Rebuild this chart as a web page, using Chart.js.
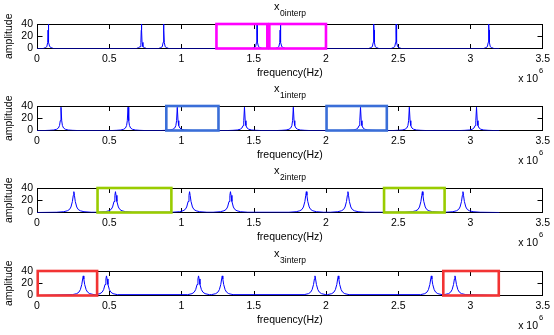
<!DOCTYPE html>
<html><head><meta charset="utf-8">
<script src="https://cdn.jsdelivr.net/npm/chart.js@4.4.0/dist/chart.umd.min.js"></script>
<style>
html,body{margin:0;padding:0;background:#fff;}
#wrap{position:relative;width:554px;height:335px;overflow:hidden;background:#fff;}
#wrap canvas{position:absolute;left:0;}
</style></head><body><div id="wrap"></div>
<script>
// Peak centres of each interpolated spectrum, in units of 1e6 Hz
const peaks0 = [0.078, 0.723, 0.877, 1.523, 1.684, 2.331, 2.486, 3.127];
const peaks1 = [0.166, 0.630, 0.971, 1.436, 1.774, 2.239, 2.577, 3.042];
const peaks2 = [0.255, 0.543, 1.056, 1.339, 1.864, 2.152, 2.667, 2.948];
const peaks3 = [0.320, 0.481, 1.118, 1.282, 1.924, 2.085, 2.729, 2.893];

// One side of each peak: [distance from centre (1e6 Hz), amplitude], centre first
const shape0 = [[0, 40], [0.0015, 30], [0.004, 10], [0.01, 3], [0.02, 1.5], [0.035, 0]];
const shape1 = [[0, 38], [0.005, 16], [0.01, 8], [0.018, 4], [0.03, 2], [0.05, 0.8], [0.08, 0.3], [0.11, 0]];
const shape2 = [[0, 34], [0.004, 28], [0.01, 18], [0.02, 9], [0.03, 5], [0.045, 2.8], [0.07, 1.3], [0.12, 0.4], [0.16, 0]];
const shape3 = [[0, 32], [0.004, 27], [0.01, 18], [0.02, 9.5], [0.03, 5.5], [0.045, 3], [0.075, 1.4], [0.14, 0]];

// Frequency span of the computed spectrum (1e6 Hz)
const spanStart = 0;
const spanEnd = 3.2;

// Highlighted frequency bands (1e6 Hz)
const bands0 = [[1.242, 1.594], [1.608, 2.0]];
const bands1 = [[0.895, 1.256], [2.004, 2.421]];
const bands2 = [[0.419, 0.930], [2.402, 2.821]];
const bands3 = [[0.005, 0.416], [2.812, 3.196]];

// Axis ticks
const xTicks = [0, 0.5, 1, 1.5, 2, 2.5, 3, 3.5];
const yTicks = [0, 20, 40];

const subNames = ['0interp', '1interp', '2interp', '3interp'];
const allPeaks = [peaks0, peaks1, peaks2, peaks3];
const allShapes = [shape0, shape1, shape2, shape3];
const allBands = [bands0, bands1, bands2, bands3];
const bandColors = ['#ff00ff', '#3a6ed8', '#99cc00', '#f23333'];

const FONT = '"Liberation Sans", Arial, Helvetica, sans-serif';

// Turn peak centres + peak shape into a polyline along the frequency axis
function buildSpectrum(peaks, shape) {
  const pts = [{x: spanStart, y: 0}];
  peaks.forEach((c, i) => {
    const prev = i > 0 ? peaks[i - 1] : -Infinity;
    const next = i < peaks.length - 1 ? peaks[i + 1] : Infinity;
    const half = Math.min(c - prev, next - c) / 2;
    const side = shape.filter(p => p[0] < half);
    for (let k = side.length - 1; k > 0; k--) pts.push({x: c - side[k][0], y: side[k][1]});
    pts.push({x: c, y: side[0][1]});
    for (let k = 1; k < side.length; k++) pts.push({x: c + side[k][0], y: side[k][1]});
  });
  pts.push({x: spanEnd, y: 0});
  return pts;
}

// Box, inward ticks, bands, title and axis multiplier
const framePlugin = {
  id: 'frame',
  beforeDatasetsDraw(chart) {
    const {ctx, chartArea: a, scales: {x, y}} = chart;
    const L = Math.round(a.left) + 0.5, R = Math.round(a.right) - 0.5;
    const T = Math.round(a.top) + 0.5, B = Math.floor(a.bottom) + 0.5;
    ctx.save();
    ctx.strokeStyle = '#000';
    ctx.lineWidth = 1;
    ctx.strokeRect(L, T, R - L, B - T);
    ctx.beginPath();
    xTicks.slice(1, -1).forEach(v => {
      const px = Math.round(x.getPixelForValue(v)) + 0.5;
      ctx.moveTo(px, B); ctx.lineTo(px, B - 4.5);
      ctx.moveTo(px, T); ctx.lineTo(px, T + 4.5);
    });
    yTicks.slice(1, -1).forEach(v => {
      const py = Math.round(y.getPixelForValue(v)) + 0.5;
      ctx.moveTo(L, py); ctx.lineTo(L + 5, py);
      ctx.moveTo(R, py); ctx.lineTo(R - 5, py);
    });
    ctx.stroke();
    ctx.restore();
  },
  afterDatasetsDraw(chart, args, opts) {
    const {ctx, scales: {x, y}} = chart;
    ctx.save();
    ctx.strokeStyle = opts.color;
    ctx.lineWidth = 2.6;
    const yt = y.getPixelForValue(40), yb = y.getPixelForValue(0);
    opts.bands.forEach(b => {
      const x0 = x.getPixelForValue(b[0]), x1 = x.getPixelForValue(b[1]);
      ctx.strokeRect(x0, yt, x1 - x0, yb - yt);
    });
    ctx.restore();
  },
  afterDraw(chart, args, opts) {
    const {ctx, chartArea: a} = chart;
    const T = Math.round(a.top), B = Math.floor(a.bottom);
    ctx.save();
    ctx.fillStyle = '#000';
    ctx.textBaseline = 'alphabetic';
    ctx.textAlign = 'left';
    // title x with subscript
    ctx.font = '11px ' + FONT;
    const wx = ctx.measureText('x').width;
    ctx.font = '8.5px ' + FONT;
    const ws = ctx.measureText(opts.sub).width;
    const cx = (a.left + a.right) / 2;
    const sx = cx - (wx + ws) / 2;
    ctx.font = '11px ' + FONT;
    ctx.fillText('x', sx, T - 14);
    ctx.font = '8.5px ' + FONT;
    ctx.fillText(opts.sub, sx + wx + 0.5, T - 8);
    // axis multiplier
    ctx.font = '10.5px ' + FONT;
    ctx.textAlign = 'right';
    ctx.fillText('x 10', 538, B + 34);
    ctx.textAlign = 'left';
    ctx.font = '7.5px ' + FONT;
    ctx.fillText('6', 539, B + 25);
    ctx.restore();
  }
};

const tops = [24, 106, 188, 271];
const wrap = document.getElementById('wrap');

tops.forEach((t, i) => {
  const cv = document.createElement('canvas');
  cv.width = 554; cv.height = 82;
  cv.style.top = (t - 24) + 'px';
  wrap.appendChild(cv);
  new Chart(cv, {
    type: 'line',
    data: {
      datasets: [{
        data: buildSpectrum(allPeaks[i], allShapes[i]),
        borderColor: '#0000ff',
        borderWidth: 1,
        pointRadius: 0,
        tension: 0,
        fill: false
      }]
    },
    options: {
      responsive: false,
      animation: false,
      devicePixelRatio: 1,
      layout: {padding: {top: 24, right: 10, left: 0, bottom: 0}},
      plugins: {
        legend: {display: false},
        tooltip: {enabled: false},
        frame: {sub: subNames[i], bands: allBands[i], color: bandColors[i]}
      },
      scales: {
        x: {
          type: 'linear', min: 0, max: 3.5,
          afterBuildTicks: s => { s.ticks = xTicks.map(v => ({value: v})); },
          grid: {display: false, drawTicks: false},
          border: {display: false},
          ticks: {padding: 4, color: '#000', font: {family: FONT, size: 10.5}, maxRotation: 0, autoSkip: false,
                  callback: v => String(v)},
          title: {display: true, text: 'frequency(Hz)', color: '#000', font: {family: FONT, size: 10.5}, padding: {top: 0, bottom: 3}},
          afterFit: s => { s.height = 33.5; }
        },
        y: {
          type: 'linear', min: 0, max: 40,
          afterBuildTicks: s => { s.ticks = yTicks.map(v => ({value: v})); },
          grid: {display: false, drawTicks: false},
          border: {display: false},
          ticks: {padding: 4, color: '#000', font: {family: FONT, size: 10.5}, autoSkip: false},
          title: {display: true, text: 'amplitude', color: '#000', font: {family: FONT, size: 10.5}, padding: {top: 3, bottom: 0}},
          afterFit: s => { s.width = 37; }
        }
      }
    },
    plugins: [framePlugin]
  });
});
</script>
</body></html>
